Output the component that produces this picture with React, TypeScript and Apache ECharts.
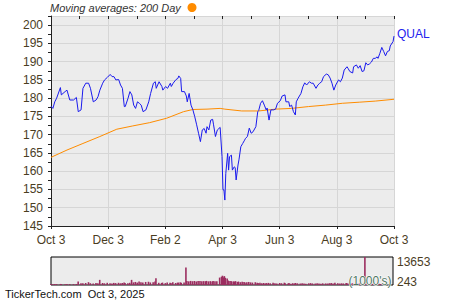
import React, { useEffect, useRef } from "react";
import * as echarts from "echarts";

// Days since Oct 3, 2024
const priceDays = [0,2,4,6,10,11,15,17,20,24,27,29,32,34,37,40,42,45,48,50,52,55,57,60,63,65,67,69,72,74,76,78,79,82,84,86,88,90,92,94,96,98,101,104,106,109,111,112,115,118,119,122,124,127,128,130,133,135,136,138,139,142,144,145,147,149,151,153,155,157,159,161,163,165,166,168,170,172,173,175,177,180,182,183,184,185,186,188,189,190,192,193,195,196,197,199,200,202,204,206,207,209,211,213,215,218,220,221,223,225,227,229,230,232,234,237,239,241,244,246,249,250,253,254,256,258,260,261,263,266,268,270,272,275,277,279,282,284,286,288,290,293,295,297,299,301,303,306,308,310,312,315,316,318,321,322,325,327,329,331,333,335,337,339,341,343,345,347,348,350,352,354,356,358,360,361,364,365];
const prices = [177.8,177.2,179,180,182.9,180.9,181.8,182.2,179.5,179.5,180.2,176.3,176.8,182.7,184.1,184.1,182.7,179,179.5,180.4,182.2,184.1,185,185.7,186.5,185.9,185.9,185,185.1,183.6,182.7,177.7,177.7,180,181.8,180.9,178.1,177.2,179,178.6,178.1,176.3,176.8,179,181.3,184.1,184.5,182.7,184.5,183.2,182.2,183.2,182.7,184.1,183.2,184.1,185.1,185.4,186.1,185.4,181.8,181.8,180.6,179,181.3,178.1,176.8,174.9,172.7,170.4,168.1,171.3,171.7,170.4,172.2,171.3,174,174.2,172.7,169.5,171.3,172,164,154.9,154.9,152.1,159.4,164.9,160.3,164,164.4,160.3,161.2,161,157.6,161.7,163.1,166.7,167.6,168.5,169,169.5,171.8,170.4,170.8,172.2,176.3,176.6,178.6,179.3,178.1,176.8,177.3,174,176.8,176.8,177,178.6,179.3,180.6,180.9,179,179,177.7,178.1,176.3,175.4,179,180,181.3,183.1,184.2,183.6,184.5,184.1,184.1,182.7,183.6,184.1,184.5,185.9,186.6,186.4,185.5,184.1,182.2,183.6,185,184.5,185.5,187.7,188.6,188.2,187.3,186.9,188.6,189.1,188.2,188.9,187.3,187.5,189.7,189.1,189.4,189.9,190.9,190.9,191.3,190.9,192.3,193.9,192.8,191.6,192.8,193,194.3,195.5,197];
const volumes = [700,650,720,680,750,700,640,760,700,690,720,1860,1100,1050,1200,1600,1100,1000,1150,1080,2700,1200,1050,1300,1100,1000,1250,1150,1300,1050,1200,1400,1250,1100,1300,2700,1500,1700,1400,1900,1600,1500,1700,1800,1450,1600,1900,3500,1300,1200,1400,1150,1500,1300,1250,1600,1200,1350,1400,1500,1300,1450,8590,2100,2000,2200,2050,2150,1950,2100,2200,2000,2100,2050,2200,2000,2100,1950,2150,2050,2000,3800,4200,4700,3900,4500,3700,3300,2400,2100,2200,1900,2000,1800,2100,1700,1900,1600,1800,1700,1500,1600,1700,1500,1400,1600,1300,1200,1350,1100,1200,1000,1150,1250,1050,1300,1100,1000,1200,1100,1350,1050,1000,1150,900,1100,1000,1200,1050,950,1100,1000,900,1050,1150,1000,950,1100,1000,900,1050,1000,950,1100,1200,1000,1300,1100,950,1050,1000,1200,1100,1000,900,1050,1150,1000,1100,1000,900,13653,850,800,780,820,760,800,780,820,750,800];
const maDays = [0,17,34,52,70,87,105,123,141,151,166,180,185,203,221,239,256,274,292,310,328,345,365];
const maValues = [163.8,165.8,167.6,169.5,171.5,172.4,173.3,174.5,176.3,176.9,177,177.2,177,176.5,176.5,177,177.2,177.7,178.1,178.6,178.9,179.2,179.7];
const xTickLabels = ["Oct 3", "Dec 3", "Feb 2", "Apr 3", "Jun 3", "Aug 3", "Oct 3"];
const volMinLabel = "243";
const volMaxLabel = "13653";
const volMin = 243;
const volMax = 13653;

export default function App() {
  const ref = useRef<HTMLDivElement>(null);
  useEffect(() => {
    document.body.style.margin = "0";
    const chart = echarts.init(ref.current!, null, { renderer: "svg" });
    const font = "'Liberation Sans', Arial, sans-serif";
    const lab = "#4a3d1f";
    const span = 365 / 6;
    const priceData = priceDays.map((d, i) => [d, prices[i]]);
    const maData = maDays.map((d, i) => [d, maValues[i]]);
    const volData = priceDays.map((d, i) => [d, volumes[i]]);
    chart.setOption({
      animation: false,
      textStyle: { fontFamily: font },
      grid: [
        { left: 51, right: 56, top: 16, height: 210, show: true, backgroundColor: "#ececec", borderWidth: 0 },
        { left: 51, right: 57, top: 257, height: 28, show: true, backgroundColor: "#ececec", borderColor: "#000", borderWidth: 1 },
      ],
      xAxis: [
        {
          type: "value", gridIndex: 0, min: 0, max: 365, interval: span,
          axisLine: { show: true, onZero: false, lineStyle: { color: "#222", width: 1 } },
          axisTick: { show: true, length: 3, lineStyle: { color: "#222" } },
          axisLabel: { color: lab, fontSize: 12, margin: 8, formatter: (v: number) => xTickLabels[Math.round(v / span)] ?? "" },
          splitLine: { show: true, lineStyle: { color: "#d6d6d6", width: 1 } },
        },
        {
          type: "value", gridIndex: 0, min: 0, max: 365, interval: span / 2,
          axisLine: { show: false, onZero: false },
          axisTick: { show: true, inside: true, length: 3, lineStyle: { color: "#222" } },
          axisLabel: { show: false }, splitLine: { show: false },
        },
        {
          type: "value", gridIndex: 1, min: 0, max: 365, show: false,
        },
      ],
      yAxis: [
        {
          type: "value", gridIndex: 0, min: 145, max: 202.5, interval: 5,
          axisLine: { show: true, lineStyle: { color: "#222", width: 1 } },
          axisTick: { show: true, length: 3, lineStyle: { color: "#222" } },
          axisLabel: { color: lab, fontSize: 12, margin: 8, showMaxLabel: false, formatter: (v: number) => (v % 5 === 0 ? String(v) : "") },
          splitLine: { show: true, lineStyle: { color: "#d6d6d6", width: 1 } },
        },
        {
          type: "value", gridIndex: 0, min: 145, max: 202.5, interval: 2.5,
          axisLine: { show: false },
          axisTick: { show: true, inside: true, length: 3, lineStyle: { color: "#222" } },
          axisLabel: { show: false }, splitLine: { show: false },
        },
        {
          type: "value", gridIndex: 1, min: volMin, max: volMax, show: false,
        },
      ],
      graphic: [
        { type: "text", left: 50, top: 2, style: { text: "Moving averages: 200 Day", font: `italic 11px ${font}`, fill: "#333" } },
        { type: "circle", shape: { cx: 192, cy: 7.5, r: 4.5 }, style: { fill: "#ff8c00" } },
        { type: "text", left: 397, top: 28, style: { text: "QUAL", font: `12px ${font}`, fill: "#2222ee" } },
        { type: "text", left: 397, top: 256, style: { text: volMaxLabel, font: `12px ${font}`, fill: lab } },
        { type: "text", left: 397, top: 276, style: { text: volMinLabel, font: `12px ${font}`, fill: lab } },
        { type: "text", left: 348, top: 274, z: 100, style: { text: "(1000's)", font: `12px ${font}`, fill: "#4f7562", stroke: "#ffffff", lineWidth: 1 } },
        { type: "text", left: 5, top: 288, style: { text: "TickerTech.com  Oct 3, 2025", font: `11px ${font}`, fill: "#111" } },
      ],
      series: [
        {
          type: "line", xAxisIndex: 0, yAxisIndex: 0, data: maData, showSymbol: false, z: 3,
          lineStyle: { color: "#ff8c00", width: 1 },
        },
        {
          type: "line", xAxisIndex: 0, yAxisIndex: 0, data: priceData, showSymbol: false, z: 4,
          lineStyle: { color: "#1a1aee", width: 1 },
        },
        {
          type: "bar", xAxisIndex: 2, yAxisIndex: 2, data: volData, barWidth: 1.6,
          itemStyle: { color: "#9b2d5f" },
        },
      ],
    });
    return () => chart.dispose();
  }, []);
  return <div ref={ref} style={{ width: 450, height: 300 }} />;
}
